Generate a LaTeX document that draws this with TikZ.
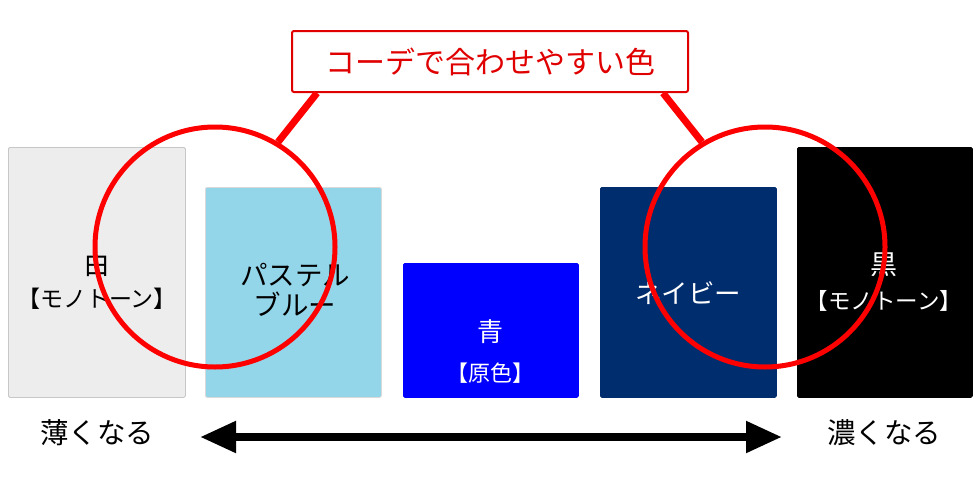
\documentclass[tikz,border=0pt]{standalone}
\usepackage{fontspec}
\setmainfont{Noto Sans CJK JP}
\usetikzlibrary{arrows.meta}

\definecolor{monowhite}{HTML}{EDEDED}
\definecolor{pastelblue}{HTML}{94D6E9}
\definecolor{pureblue}{HTML}{0000FF}
\definecolor{navyblue}{HTML}{002D6E}
\definecolor{ringred}{HTML}{FF0000}
\definecolor{titlered}{HTML}{E00000}

\begin{document}
\begin{tikzpicture}[x=1pt,y=1pt,
    colbox/.style={rectangle,anchor=north west,inner sep=0,line width=0.8,rounded corners=1.5},
    txt/.style={align=center,inner sep=0,text=#1},
    ring/.style={circle,draw=ringred,line width=5,minimum size=240,inner sep=0},
    stem/.style={draw=ringred,line width=7},
    spread/.style={{Triangle[length=36pt,width=30pt]}-{Triangle[length=36pt,width=30pt]},line width=8}]

  \useasboundingbox (0,0) rectangle (980,-490);

  % colour boxes
  \node[colbox,draw=black!22,fill=monowhite,minimum width=177,minimum height=250] (white) at (8,-147) {};
  \node[colbox,draw=black!15,fill=pastelblue,minimum width=176,minimum height=210] (pastel) at (205,-187) {};
  \node[colbox,draw=pureblue,fill=pureblue,minimum width=175,minimum height=134] (blue) at (403,-263) {};
  \node[colbox,draw=navyblue,fill=navyblue,minimum width=176,minimum height=210] (navy) at (600,-187) {};
  \node[colbox,draw=black,fill=black,minimum width=175,minimum height=250] (black) at (797,-147) {};

  % labels in the boxes
  \node[txt=black,font=\fontsize{23}{33}\selectfont] (whiteT) at (97,-281)
    {{\fontsize{27}{33}\selectfont 白}\\【モノトーン】};
  \node[txt=black,font=\fontsize{27.5}{30}\selectfont] (pastelT) at (295,-290) {パステル\\ブルー};
  \node[txt=white,font=\fontsize{22}{40}\selectfont] (blueT) at (490,-352)
    {{\fontsize{26}{40}\selectfont 青}\\【原色】};
  \node[txt=white,font=\fontsize{26.5}{30}\selectfont] (navyT) at (688,-293) {ネイビー};
  \node[txt=white,font=\fontsize{22.5}{35}\selectfont] (blackT) at (884,-282)
    {{\fontsize{27}{35}\selectfont 黒}\\【モノトーン】};

  % the two rings
  \node[ring] (ringL) at (215,-247) {};
  \node[ring] (ringR) at (765,-247) {};

  % title and its stems
  \node[draw=titlered,line width=2,rounded corners=2,fill=white,text=titlered,
    minimum width=396,minimum height=61,inner sep=0,
    font=\fontsize{30}{32}\selectfont] (title) at (490,-61.5) {コーデで合わせやすい色};
  \draw[stem] ([xshift=26]title.south west) -- (ringL.59);
  \draw[stem] ([xshift=-26]title.south east) -- (ringR.121);

  % light to dark
  \node[txt=black,font=\fontsize{28.5}{30}\selectfont] (light) at (97,-433) {薄くなる};
  \node[txt=black,font=\fontsize{28.5}{30}\selectfont] (dark) at (884,-433) {濃くなる};
  \coordinate (arrowL) at (200,-437);
  \coordinate (arrowR) at (782,-437);
  \draw[spread] (arrowL) -- (arrowR);

\end{tikzpicture}
\end{document}
